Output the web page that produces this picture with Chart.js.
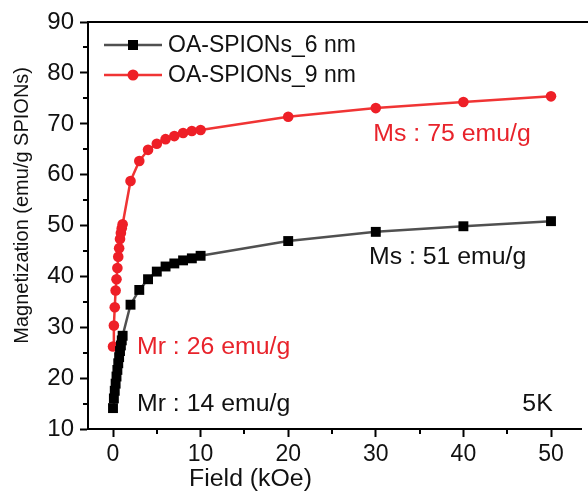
<!DOCTYPE html>
<html>
<head>
<meta charset="utf-8">
<script src="https://cdn.jsdelivr.net/npm/chart.js@4.4.0/dist/chart.umd.min.js"></script>
<style>
html,body{margin:0;padding:0;background:#fff;}
#wrap{width:588px;height:494px;position:relative;}
</style>
</head>
<body>
<div id="wrap"><canvas id="c" width="588" height="494"></canvas></div>
<script>
// Field (kOe) values shared by both series
const field = [0, 0.1, 0.2, 0.3, 0.4, 0.5, 0.6, 0.7, 0.8, 0.9, 1.0, 1.1, 2, 3, 4, 5, 6, 7, 8, 9, 10, 20, 30, 40, 50];
// Magnetization (emu/g SPIONs)
const mag6nm = [14.2, 16.1, 17.6, 19.0, 20.4, 21.7, 23.0, 24.2, 25.4, 26.5, 27.5, 28.4, 34.5, 37.4, 39.5, 41.0, 42.0, 42.6, 43.2, 43.6, 44.1, 47.0, 48.8, 49.9, 50.9];
const mag9nm = [26.3, 30.4, 34.0, 37.3, 39.5, 41.7, 43.9, 45.6, 47.4, 48.6, 49.5, 50.3, 58.8, 62.7, 64.9, 66.1, 67.0, 67.6, 68.2, 68.6, 68.8, 71.4, 73.1, 74.3, 75.4];
const seriesNames = ['OA-SPIONs_6 nm', 'OA-SPIONs_9 nm'];
const xTicks = [0, 10, 20, 30, 40, 50];
const xMinorTicks = [5, 15, 25, 35, 45];
const yTicks = [10, 20, 30, 40, 50, 60, 70, 80, 90];
const yMinorTicks = [15, 25, 35, 45, 55, 65, 75, 85];
const annotations = [
  {text: 'Ms : 75 emu/g', x: 38.7, y: 67.8, align: 'center', color: '#e8232b'},
  {text: 'Ms : 51 emu/g', x: 38.2, y: 43.8, align: 'center', color: '#111'},
  {text: 'Mr : 26 emu/g', x: 2.74, y: 26.1, align: 'left', color: '#e8232b'},
  {text: 'Mr : 14 emu/g', x: 2.74, y: 14.9, align: 'left', color: '#111'},
  {text: '5K', x: 50.2, y: 14.9, align: 'right', color: '#111'}
];

const FONT = '"Liberation Sans", Arial, Helvetica, sans-serif';
const BLACK_LINE = '#505050', BLACK_PT = '#000000';
const RED_LINE = '#f03434', RED_PT = '#ee1f27';

const toPts = (ys) => field.map((x, i) => ({x: x, y: ys[i]}));

const overlay = {
  id: 'overlay',
  afterDraw(chart) {
    const ctx = chart.ctx;
    const a = chart.chartArea;
    const xs = chart.scales.x, ys = chart.scales.y;
    ctx.save();
    ctx.strokeStyle = '#000'; ctx.lineWidth = 2;
    ctx.beginPath(); ctx.moveTo(a.left - 1, a.top); ctx.lineTo(chart.width, a.top); ctx.stroke();
    xMinorTicks.forEach(v => {
      const px = Math.round(xs.getPixelForValue(v));
      ctx.beginPath(); ctx.moveTo(px, a.bottom); ctx.lineTo(px, a.bottom + 5); ctx.stroke();
    });
    yMinorTicks.forEach(v => {
      const py = Math.round(ys.getPixelForValue(v));
      ctx.beginPath(); ctx.moveTo(a.left, py); ctx.lineTo(a.left - 5, py); ctx.stroke();
    });
    ctx.fillStyle = '#111';
    ctx.font = '23px ' + FONT;
    ctx.textAlign = 'center'; ctx.textBaseline = 'middle';
    ctx.save();
    ctx.translate(xs.getPixelForValue(15.7), 480);
    ctx.scale(1.08, 1);
    ctx.fillText('Field (kOe)', 0, 0);
    ctx.restore();
    ctx.save();
    ctx.translate(22, ys.getPixelForValue(54));
    ctx.rotate(-Math.PI / 2);
    ctx.font = '20px ' + FONT;
    ctx.fillText('Magnetization (emu/g SPIONs)', 0, 0);
    ctx.restore();
    annotations.forEach(an => {
      ctx.save();
      ctx.fillStyle = an.color;
      ctx.font = '23px ' + FONT;
      ctx.textAlign = an.align; ctx.textBaseline = 'middle';
      ctx.translate(xs.getPixelForValue(an.x), ys.getPixelForValue(an.y));
      ctx.scale(1.08, 1);
      ctx.fillText(an.text, 0, 0);
      ctx.restore();
    });
    const ds = chart.data.datasets;
    const rows = [45, 75];
    ds.forEach((d, i) => {
      const y = rows[i];
      ctx.strokeStyle = d.borderColor; ctx.lineWidth = 2.5;
      ctx.beginPath(); ctx.moveTo(104, y); ctx.lineTo(162, y); ctx.stroke();
      ctx.fillStyle = d.pointBackgroundColor;
      if (d.pointStyle === 'rect') {
        ctx.fillRect(133 - 5, y - 5, 10, 10);
      } else {
        ctx.beginPath(); ctx.arc(133, y, 5.5, 0, Math.PI * 2); ctx.fill();
      }
      ctx.fillStyle = '#111';
      ctx.font = '23px ' + FONT;
      ctx.textAlign = 'left'; ctx.textBaseline = 'middle';
      ctx.fillText(d.label, 168, y + 1);
    });
    ctx.restore();
  }
};

const chart = new Chart(document.getElementById('c'), {
  type: 'line',
  data: {
    datasets: [
      {
        label: seriesNames[0],
        data: toPts(mag6nm),
        borderColor: BLACK_LINE,
        borderWidth: 2.5,
        pointStyle: 'rect',
        pointRadius: 7,
        pointBackgroundColor: BLACK_PT,
        pointBorderColor: BLACK_PT,
        pointBorderWidth: 0,
        tension: 0
      },
      {
        label: seriesNames[1],
        data: toPts(mag9nm),
        borderColor: RED_LINE,
        borderWidth: 2.5,
        pointStyle: 'circle',
        pointRadius: 5.3,
        pointBackgroundColor: RED_PT,
        pointBorderColor: RED_PT,
        pointBorderWidth: 0,
        tension: 0
      }
    ]
  },
  options: {
    responsive: false,
    animation: false,
    devicePixelRatio: 1,
    layout: {padding: {top: 22, right: 0, left: 0, bottom: 0}},
    plugins: {legend: {display: false}, tooltip: {enabled: false}},
    scales: {
      x: {
        type: 'linear',
        min: -2.74,
        max: 54.2,
        afterBuildTicks: (s) => { s.ticks = xTicks.map(v => ({value: v})); },
        afterFit: (s) => { s.height = 65; },
        border: {display: true, color: '#000', width: 2},
        grid: {drawOnChartArea: false, drawTicks: true, tickLength: 8, tickColor: '#000', tickWidth: 2},
        ticks: {color: '#111', font: {family: FONT, size: 23}, padding: 4, maxRotation: 0, autoSkip: false}
      },
      y: {
        type: 'linear',
        min: 10,
        max: 90,
        afterBuildTicks: (s) => { s.ticks = yTicks.map(v => ({value: v})); },
        afterFit: (s) => { s.width = 88; },
        border: {display: true, color: '#000', width: 2},
        grid: {drawOnChartArea: false, drawTicks: true, tickLength: 8, tickColor: '#000', tickWidth: 2},
        ticks: {color: '#111', font: {family: FONT, size: 24}, padding: 6, autoSkip: false}
      }
    }
  },
  plugins: [overlay]
});

// calibrate axis ranges so field 0 / 50 land where the reference puts them
(function calibrate() {
  const a = chart.chartArea;
  const u = 50 / (551 - 113);
  chart.options.scales.x.min = -(113 - a.left) * u;
  chart.options.scales.x.max = 50 + (a.right - 551) * u;
  const v = 80 / (429.5 - 22);
  chart.options.scales.y.max = 90 + (22 - a.top) * v;
  chart.options.scales.y.min = 10 - (a.bottom - 429.5) * v;
  chart.update('none');
})();
</script>
</body>
</html>
